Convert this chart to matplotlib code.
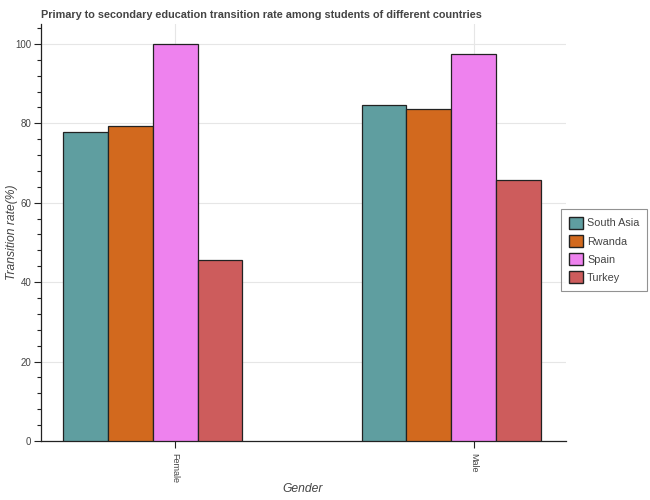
import matplotlib
matplotlib.use("Agg")
import matplotlib.pyplot as plt
import numpy as np
from matplotlib.ticker import MultipleLocator
from matplotlib.patches import Patch

plt.rcParams['font.family'] = ['Liberation Sans', 'DejaVu Sans']

genders = ["Female", "Male"]
countries = ["South Asia", "Rwanda", "Spain", "Turkey"]
values = {
    "South Asia": [77.8, 84.5],
    "Rwanda": [79.3, 83.5],
    "Spain": [100.0, 97.4],
    "Turkey": [45.5, 65.6],
}
colors = ["#5F9EA0", "#D2691E", "#EE82EE", "#CD5C5C"]
offsets = [-0.3, -0.15, 0.0, 0.15]
width = 0.15

fig = plt.figure(figsize=(6.5, 5), dpi=100)
ax = fig.add_axes([41/650, 59/500, (566-41)/650, (441-24)/500])
x = np.arange(len(genders))
for c, col, off in zip(countries, colors, offsets):
    ax.bar(x + off, values[c], width=width, color=col, edgecolor="#222222",
           linewidth=0.9, zorder=3)

ax.set_xlim(-0.45, 1.31)
ax.set_ylim(0, 105)
ax.set_xticks(x)
ax.set_xticklabels(genders, rotation=-90, fontsize=6.5, color="#444444")
ax.yaxis.set_major_locator(MultipleLocator(20))
ax.yaxis.set_minor_locator(MultipleLocator(4))
ax.tick_params(axis='y', which='major', length=5, width=0.8, labelsize=7,
               labelcolor="#444444", color="#222222", pad=2)
ax.tick_params(axis='y', which='minor', length=3, width=0.8, color="#222222")
ax.tick_params(axis='x', which='major', length=5, width=0.8, color="#222222")
ax.grid(True, color="#e6e6e6", linewidth=0.8, zorder=0)
for s in ['top', 'right']:
    ax.spines[s].set_visible(False)
ax.spines['left'].set_color("#222222")
ax.spines['bottom'].set_color("#222222")
ax.spines['left'].set_linewidth(0.9)
ax.spines['bottom'].set_linewidth(0.9)

fig.text(12/650, 1 - 232/500, "Transition rate(%)", fontsize=8.7, style='italic',
         color="#444444", rotation=90, ha='center', va='center')
fig.text(303/650, 1 - 489/500, "Gender", fontsize=8.7, style='italic',
         color="#444444", ha='center', va='center')
fig.text(41/650, 1 - 15/500, "Primary to secondary education transition rate among students of different countries",
         fontsize=7.8, fontweight='bold', color="#444444", va='center', ha='left')

handles = [Patch(facecolor=col, edgecolor="#222222", label=c) for c, col in zip(countries, colors)]
leg = fig.legend(handles=handles, loc='center right', bbox_to_anchor=(647/650, 1 - 250/500),
                 fontsize=7.8, frameon=True, fancybox=False, edgecolor="#777777",
                 handlelength=1.3, handleheight=1.35, borderpad=0.7, labelspacing=0.55,
                 handletextpad=0.4, borderaxespad=0)
leg.get_frame().set_linewidth(0.8)
for t in leg.get_texts():
    t.set_color("#444444")

fig.savefig("out.png", dpi=100, facecolor="white")
